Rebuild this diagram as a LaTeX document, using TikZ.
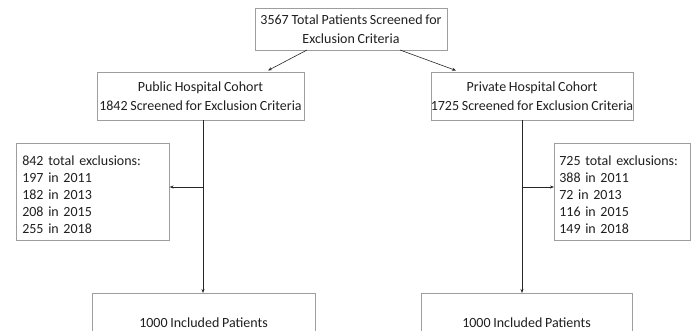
\documentclass[tikz,border=0pt]{standalone}
\usepackage{fontspec}
\setmainfont{Carlito}[WordSpace=0.85]
\usetikzlibrary{arrows.meta}
\begin{document}
\begin{tikzpicture}[x=1pt,y=-1pt,
  box/.style={draw=black!38, line width=0.6pt, align=center, inner sep=0pt, font=\fontsize{14}{18.5}\selectfont, text=black!88},
  exbox/.style={draw=black!38, line width=0.6pt, align=left, anchor=north west, inner sep=0pt, font=\fontsize{14}{17}\selectfont, text=black!88},
  conn/.style={draw=black!85, line width=0.6pt},
  arr/.style={conn, -{Stealth[length=4pt,width=3pt]}}]
\useasboundingbox (0,0) rectangle (691,331);
\node[box, minimum width=192pt, minimum height=42pt] (top) at (351,29) {3567 Total Patients Screened for\\Exclusion Criteria};
\node[box, minimum width=207pt, minimum height=48pt] (pub) at (200.5,96) {Public Hospital Cohort\\1842 Screened for Exclusion Criteria};
\node[box, minimum width=200pt, minimum height=48pt] (priv) at (532,96) {Private Hospital Cohort\\1725 Screened for Exclusion Criteria};
\node[exbox, minimum width=153pt, minimum height=97pt, text width=141pt, inner xsep=6pt, inner ysep=0pt] (exl) at (16,143) {\hyphenpenalty=10000\rule{0pt}{15pt}842 total exclusions:\\197 in 2011\\182 in 2013\\208 in 2015\\255 in 2018};
\node[exbox, minimum width=134pt, minimum height=97pt, text width=126pt, inner xsep=5pt, inner ysep=0pt] (exr) at (554,143) {\hyphenpenalty=10000\rule{0pt}{15pt}725 total exclusions:\\388 in 2011\\72 in 2013\\116 in 2015\\149 in 2018};
\node[box, minimum width=223pt, minimum height=60pt] (incl) at (203.5,323) {1000 Included Patients};
\node[box, minimum width=211pt, minimum height=60pt] (incr) at (526.5,323) {1000 Included Patients};
\coordinate (tl) at (307,50);
\coordinate (tr) at (400,50);
\coordinate (pl) at (268,70.5);
\coordinate (pr) at (456,70.5);
\draw[arr] (tl) -- (pl);
\draw[arr] (tr) -- (pr);
\coordinate (ls) at (203,120);
\coordinate (lj) at (203,187);
\coordinate (rs) at (522,120);
\coordinate (rj) at (522,187);
\draw[arr] (ls) -- (203,293);
\draw[arr] (lj) -- (exl.east |- lj);
\draw[arr] (rs) -- (522,293);
\draw[arr] (rj) -- (exr.west |- rj);
\end{tikzpicture}
\end{document}
